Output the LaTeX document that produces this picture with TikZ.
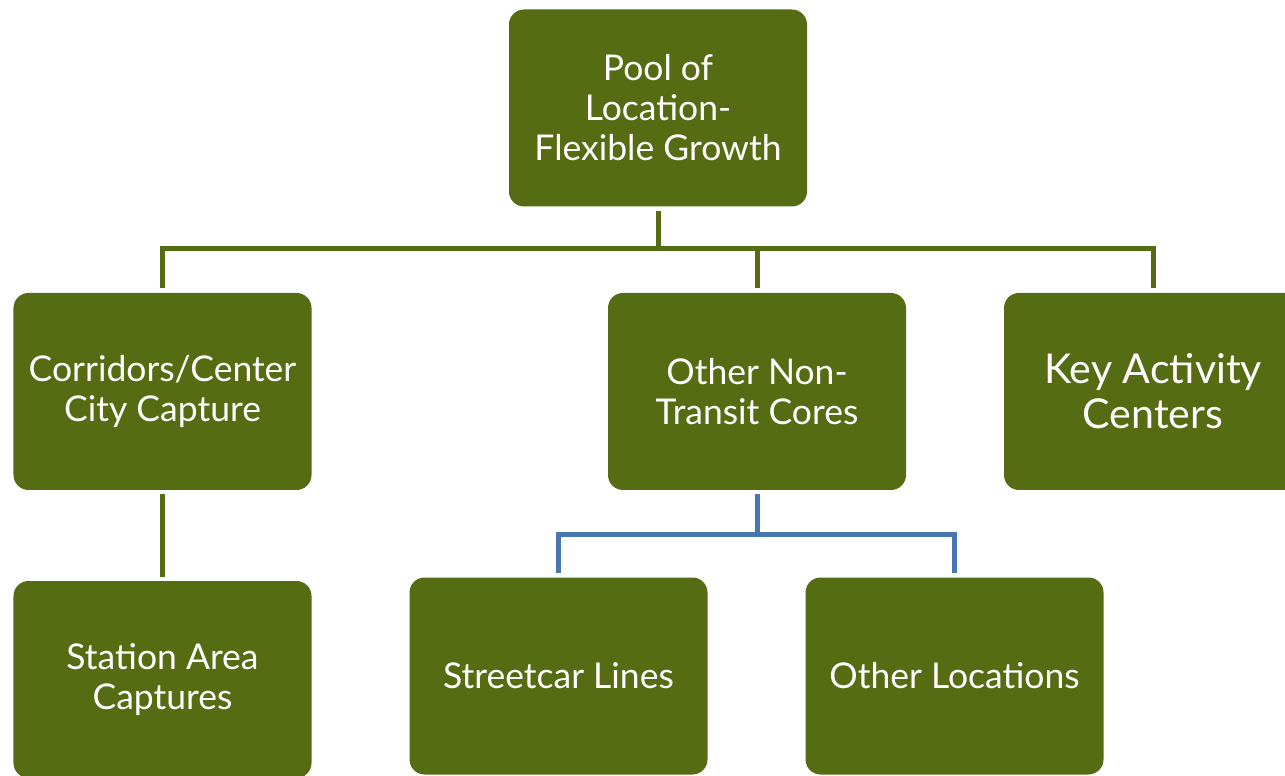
\documentclass[tikz,border=0pt]{standalone}
\usepackage{fontspec}
\setmainfont{Lato}
\definecolor{olivebox}{RGB}{86,108,18}
\definecolor{linkblue}{RGB}{74,118,176}
\tikzset{
	box/.style={fill=olivebox, rounded corners=0.3cm, minimum width=5.96cm, minimum height=3.94cm,
		text=white, align=center, font=\fontsize{20.2}{22.8}\selectfont, outer sep=0.09cm},
	trunk/.style={draw=olivebox, line width=0.1cm},
	branch/.style={draw=linkblue, line width=0.1cm}
}
\begin{document}
\begin{tikzpicture}
	\useasboundingbox (0, 0) rectangle (25.7, 15.5);
	\clip (0, 0) rectangle (25.7, 15.5);

	\node[box] (pool) at (13.16, 13.34) {Pool of\\Location-\\Flexible Growth};
	\node[box] (corr) at (3.25, 7.67) {Corridors/Center\\City Capture};
	\node[box] (ontc) at (15.14, 7.67) {Other Non-\\Transit Cores};
	\node[box, font=\fontsize{23.4}{25.6}\selectfont] (kac) at (23.06, 7.67) {Key Activity\\Centers};
	\node[box] (station) at (3.25, 1.91) {Station Area\\Captures};
	\node[box] (street) at (11.17, 1.98) {Streetcar Lines};
	\node[box] (otherloc) at (19.09, 1.98) {Other Locations};

	\coordinate (bus) at (13.16, 10.52);
	\draw[trunk] (pool.south) -- (bus) -| (corr.north);
	\draw[trunk] (bus) -| (ontc.north);
	\draw[trunk] (bus) -| (kac.north);
	\draw[trunk] (corr.south) -- (station.north);

	\coordinate (split) at (15.14, 4.8);
	\draw[branch] (ontc.south) -- (split) -| (street.north);
	\draw[branch] (split) -| (otherloc.north);
\end{tikzpicture}
\end{document}
